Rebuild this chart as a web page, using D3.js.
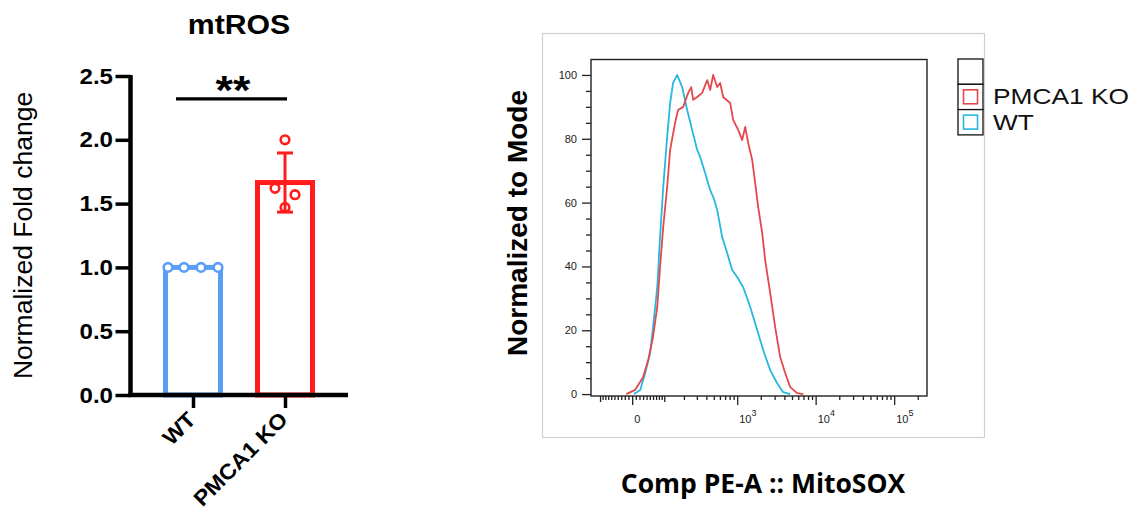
<!DOCTYPE html>
<html>
<head>
<meta charset="utf-8">
<script src="https://cdn.jsdelivr.net/npm/d3@7"></script>
<style>
  body { margin: 0; background: #fff; }
  svg { display: block; }
</style>
</head>
<body>
<svg id="chart" width="1134" height="530"></svg>
<script>
// ---- bar chart data (normalized fold change, n = 4 per group)
const groups = ['WT', 'PMCA1 KO']
const wtValues = [1.0, 1.0, 1.0, 1.0]
const koValues = [2.0, 1.62, 1.57, 1.47]
const barTicks = [0, 0.5, 1.0, 1.5, 2.0, 2.5]
const sigLabel = '**'

// ---- histogram data (MitoSOX intensity vs % of mode)
const wtIntensity = [5, 22, 36, 51, 60, 74, 84, 96, 112, 125, 139, 160, 189, 222, 259, 303, 332, 386,
    410, 449, 491, 521, 553, 604, 641, 744, 862, 999, 1193, 1466, 1800, 2146, 2635, 3235, 3859, 4737]
const wtPercent = [0, 1.3, 6.6, 12.9, 21.0, 33.5, 49.2, 64.9, 80.6, 91.2, 97.5, 100, 96.2, 89.0, 82.8, 76.5,
    74.3, 69.3, 67.1, 63.9, 61.8, 59.9, 57.7, 52.7, 49.2, 44.2, 38.9, 36.7, 33.5, 27.3, 20.1, 13.8, 7.5, 3.4, 0.6, 0]
const koIntensity = [-16, 8, 30, 45, 60, 74, 84, 96, 112, 125, 149, 165, 195, 229, 252, 268, 303, 353, 410,
    449, 491, 553, 604, 661, 813, 888, 1029, 1157, 1266, 1382, 1554, 1697, 1853, 2084, 2276, 2635, 3051,
    3533, 4090, 4737, 5819, 6937]
const koPercent = [0, 1.3, 5.3, 10.7, 17.9, 27.3, 39.8, 52.4, 64.9, 76.5, 85.0, 89.0, 90.0, 94.4, 96.2, 92.2,
    93.1, 94.4, 98.4, 95.3, 100, 96.2, 97.5, 93.1, 91.2, 85.9, 82.8, 79.6, 83.7, 78.7, 73.4, 66.1, 58.6,
    50.5, 42.0, 31.7, 21.0, 11.6, 6.6, 2.2, 0.3, 0]
const histYTicks = [0, 20, 40, 60, 80, 100]
const histXMajor = [0, 1e3, 1e4, 1e5]
const legendLabels = ['PMCA1 KO', 'WT']

const svg = d3.select('#chart')
const blue = '#5a9ef6'
const red = '#ff1c1c'
const histRed = '#e5484c'
const histCyan = '#25b8e0'
const arial = '"Liberation Sans", Arial, sans-serif'

// horizontally widened text (the prism export is a bit stretched)
const wideText = (parent, txt, px, py, size, anchor, weight = 'bold', sx = 1.12) => parent.append('text')
    .attr('transform', `translate(${px},${py}) scale(${sx},1)`)
    .attr('text-anchor', anchor)
    .style('font-family', arial)
    .style('font-weight', weight)
    .style('font-size', size + 'px')
    .text(txt)

// =====================  left: bar chart  =====================
const left = svg.append('g')
const x = d3.scalePoint().domain(groups).range([131, 347]).padding(0.674)
const y = d3.scaleLinear().domain([0, 2.5]).range([395, 76])
const barW = 55

const series = [
    {name: groups[0], values: wtValues, color: blue, offsets: [-25, -9, 8, 25]},
    {name: groups[1], values: koValues, color: red, offsets: [0, -10, 10, 0]}
].map(s => ({...s, mean: d3.mean(s.values), sd: d3.deviation(s.values)}))

left.selectAll('rect.bar')
    .data(series)
    .enter()
    .append('rect')
    .attr('class', 'bar')
    .attr('x', d => x(d.name) - barW / 2)
    .attr('y', d => y(d.mean))
    .attr('width', barW)
    .attr('height', d => y(0) - y(d.mean))
    .attr('fill', '#fff')
    .attr('stroke', d => d.color)
    .attr('stroke-width', 5)

// individual points
series.forEach(s => {
    left.selectAll(null)
        .data(s.values)
        .enter()
        .append('circle')
        .attr('cx', (d, i) => x(s.name) + s.offsets[i])
        .attr('cy', d => y(d))
        .attr('r', 4.3)
        .attr('fill', '#fff')
        .attr('stroke', s.color)
        .attr('stroke-width', 2.6)
})

// error bars (mean +/- SD)
series.filter(s => s.sd > 0).forEach(s => {
    const g = left.append('g').attr('stroke', s.color).attr('stroke-width', 3)
    const cx = x(s.name)
    g.append('line').attr('x1', cx).attr('x2', cx).attr('y1', y(s.mean - s.sd)).attr('y2', y(s.mean + s.sd))
    ;[s.mean - s.sd, s.mean + s.sd].forEach(v => {
        g.append('line').attr('x1', cx - 8).attr('x2', cx + 8).attr('y1', y(v)).attr('y2', y(v))
    })
})

// axes
const yAxis = left.append('g')
    .attr('transform', 'translate(130.5,0)')
    .call(d3.axisLeft(y).tickValues(barTicks).tickSize(15).tickSizeOuter(0).tickFormat(''))
const xAxis = left.append('g')
    .attr('transform', 'translate(0,395)')
    .call(d3.axisBottom(x).tickSize(13).tickSizeOuter(0).tickFormat(''))
yAxis.select('.domain').attr('stroke-width', 4.5).attr('d', `M0,${y(0) + 2}V${y(2.5) - 1}`)
xAxis.select('.domain').attr('stroke-width', 4.5).attr('d', 'M128.5,0H348')
yAxis.selectAll('.tick line').attr('stroke-width', 3.5)
xAxis.selectAll('.tick line').attr('stroke-width', 3.5)

barTicks.forEach(t => wideText(left, d3.format('.1f')(t), 113, y(t) + 7.5, 21.5, 'end'))

groups.forEach(g => {
    left.append('text')
        .attr('transform', `translate(${x(g) + 4},${421}) rotate(-45) scale(1.08,1)`)
        .attr('text-anchor', 'end')
        .style('font-family', arial)
        .style('font-weight', 'bold')
        .style('font-size', '21.5px')
        .text(g)
})

// title and axis title
wideText(left, 'mtROS', 239, 34, 27, 'middle')
left.append('text')
    .attr('transform', `translate(32,${y(1.25)}) rotate(-90)`)
    .attr('text-anchor', 'middle')
    .style('font-family', arial)
    .style('font-size', '26.5px')
    .text('Normalized Fold change')

// significance bracket
const sigY = y(2.32)
left.append('line')
    .attr('x1', x(groups[0]) - 17).attr('x2', x(groups[1]) + 2)
    .attr('y1', sigY).attr('y2', sigY)
    .attr('stroke', '#000').attr('stroke-width', 3.2)
wideText(left, sigLabel, 233, sigY + 5, 40, 'middle')

// =====================  right: MitoSOX histogram  =====================
const right = svg.append('g')

// outer panel frame
right.append('rect')
    .attr('x', 542.5).attr('y', 33.5).attr('width', 442).attr('height', 404)
    .attr('fill', 'none').attr('stroke', '#cfcfcf').attr('stroke-width', 1.2)

// biexponential-like display: arcsinh transform on a linear scale
const cofactor = 92
const topValue = 262144
const asinhT = v => Math.asinh(v / cofactor)
const xt = d3.scaleLinear().domain([asinhT(-145), asinhT(topValue)]).range([590, 927])
const fx = v => xt(asinhT(v))
const xBiex = Object.assign(v => fx(v), {
    domain: () => [-145, topValue],
    range: () => xt.range(),
    copy: () => xBiex
})
const ys = d3.scaleLinear().domain([-0.6, 105]).range([396, 59])

const line = d3.line().x(d => fx(d[0])).y(d => ys(d[1]))
const wtData = d3.zip(wtIntensity, wtPercent)
const koData = d3.zip(koIntensity, koPercent)

right.append('path').datum(wtData)
    .attr('d', line).attr('fill', 'none').attr('stroke', histCyan).attr('stroke-width', 1.8)
    .attr('stroke-linejoin', 'round')
right.append('path').datum(koData)
    .attr('d', line).attr('fill', 'none').attr('stroke', histRed).attr('stroke-width', 1.8)
    .attr('stroke-linejoin', 'round')

// plot box
right.append('rect')
    .attr('x', 591).attr('y', 59.5).attr('width', 336).attr('height', 336.5)
    .attr('fill', 'none').attr('stroke', '#222').attr('stroke-width', 1.4)

// y axis
const histMinorY = d3.range(0, 101, 5).filter(v => v % 20 !== 0)
const yMajor = right.append('g').attr('transform', 'translate(591,0)')
    .call(d3.axisLeft(ys).tickValues(histYTicks).tickSize(9).tickPadding(5))
right.append('g').attr('transform', 'translate(591,0)')
    .call(d3.axisLeft(ys).tickValues(histMinorY).tickSize(5).tickFormat(''))
    .call(g => g.select('.domain').remove())
yMajor.select('.domain').remove()
right.selectAll('.tick line').attr('stroke', '#222').attr('stroke-width', 1.3)
yMajor.selectAll('text')
    .style('font-family', '"Liberation Sans Narrow", "Liberation Sans", sans-serif')
    .style('font-size', '11px')
    .attr('fill', '#222')

// x axis (ticks below the box)
const decadeSteps = d3.range(2, 10)
const minorX = [
    ...d3.range(1, 10).map(k => -k * 10),
    ...d3.range(1, 10).map(k => k * 10),
    ...decadeSteps.map(k => k * 100),
    ...decadeSteps.map(k => k * 1000),
    ...decadeSteps.map(k => k * 10000),
    2e5
]
const midX = [-100, 100]
const xAxisAt = 396
right.append('g').attr('transform', `translate(0,${xAxisAt})`)
    .call(d3.axisBottom(xBiex).tickValues(minorX).tickSize(4).tickFormat(''))
right.append('g').attr('transform', `translate(0,${xAxisAt})`)
    .call(d3.axisBottom(xBiex).tickValues(midX).tickSize(6).tickFormat(''))
right.append('g').attr('transform', `translate(0,${xAxisAt})`)
    .call(d3.axisBottom(xBiex).tickValues(histXMajor).tickSize(9).tickFormat(''))
right.selectAll('.domain').remove()
right.selectAll('.tick line').attr('stroke', '#222').attr('stroke-width', 1.3)

histXMajor.forEach(v => {
    const t = right.append('text')
        .attr('x', fx(v) + 2).attr('y', 423)
        .style('font-family', '"Liberation Sans Narrow", "Liberation Sans", sans-serif')
        .style('font-size', '11px')
        .attr('fill', '#222')
    if (v === 0) {
        t.text('0')
    } else {
        t.append('tspan').text('10')
        t.append('tspan').attr('dy', -7).style('font-size', '9px').text(Math.round(Math.log10(v)))
    }
})

// axis titles
right.append('text')
    .attr('transform', 'translate(527,223) rotate(-90)')
    .attr('text-anchor', 'middle')
    .style('font-family', arial)
    .style('font-weight', 'bold')
    .style('font-size', '28px')
    .text('Normalized to Mode')
right.append('text')
    .attr('x', 763).attr('y', 493)
    .attr('text-anchor', 'middle')
    .style('font-family', '"Open Sans", sans-serif')
    .style('font-weight', 'bold')
    .style('font-size', '26.5px')
    .text('Comp PE-A :: MitoSOX')

// legend
const legendColors = [histRed, histCyan]
const legend = right.append('g').attr('transform', 'translate(958,59)')
const rowH = 25.3
d3.range(3).forEach(i => {
    legend.append('rect')
        .attr('x', 0).attr('y', i * rowH).attr('width', 25).attr('height', rowH)
        .attr('fill', '#fff').attr('stroke', '#111').attr('stroke-width', 1.3)
})
legendLabels.forEach((lab, i) => {
    const ry = (i + 1) * rowH
    legend.append('rect')
        .attr('x', 5.5).attr('y', ry + 5.5).attr('width', 14).attr('height', 14)
        .attr('fill', 'none').attr('stroke', legendColors[i]).attr('stroke-width', 1.6)
    legend.append('text')
        .attr('transform', `translate(35,${ry + 20}) scale(1.17,1)`)
        .style('font-family', arial)
        .style('font-size', '22.5px')
        .attr('fill', '#111')
        .text(lab)
})
</script>
</body>
</html>
